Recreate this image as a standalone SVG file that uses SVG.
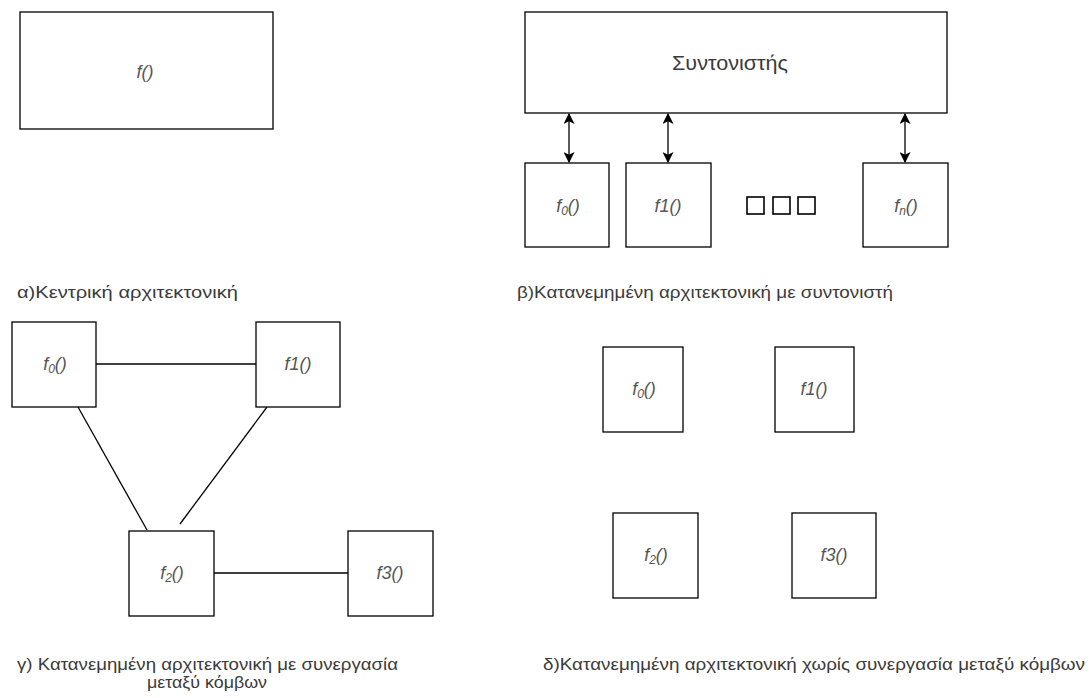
<svg xmlns="http://www.w3.org/2000/svg" width="1089" height="698" viewBox="0 0 1089 698">
  <style>
    .box { fill: #ffffff; stroke: #000000; stroke-width: 1.3; }
    .fn { font-family: "Liberation Sans", Arial, sans-serif; font-size: 18px; font-style: italic; fill: #555555; text-anchor: middle; }
    .sub { font-size: 12px; }
    .cap { font-family: "Liberation Sans", Arial, sans-serif; font-size: 17px; fill: #3a3a3a; }
    .title { font-family: "Liberation Sans", Arial, sans-serif; font-size: 21px; fill: #3a3a3a; }
    .edge { stroke: #000000; stroke-width: 1.3; fill: none; }
    .dot { fill: #ffffff; stroke: #000000; stroke-width: 1.6; }
  </style>
  <defs>
    <marker id="arrow" viewBox="0 0 10 10" refX="9" refY="5" markerWidth="11" markerHeight="11" orient="auto-start-reverse" markerUnits="userSpaceOnUse">
      <path d="M0,0 L10,5 L0,10 L2.5,5 Z" fill="#000000"/>
    </marker>
  </defs>
  <rect width="1089" height="698" fill="#ffffff"/>

  <!-- connectors -->
  <g id="connectors">
    <line class="edge" x1="569" y1="114" x2="569" y2="162" marker-start="url(#arrow)" marker-end="url(#arrow)"/>
    <line class="edge" x1="668" y1="114" x2="668" y2="162" marker-start="url(#arrow)" marker-end="url(#arrow)"/>
    <line class="edge" x1="905" y1="114" x2="905" y2="162" marker-start="url(#arrow)" marker-end="url(#arrow)"/>
    <line class="edge" x1="96" y1="364" x2="256" y2="364"/>
    <line class="edge" x1="78" y1="407" x2="147" y2="530"/>
    <line class="edge" x1="267" y1="407" x2="180" y2="524"/>
    <line class="edge" x1="214" y1="573" x2="348" y2="573"/>
  </g>

  <!-- (a) central -->
  <g id="central">
    <rect class="box" x="20" y="12" width="253" height="117"/>
    <text class="fn" x="145" y="78">f()</text>
  </g>

  <!-- (b) with coordinator -->
  <g id="coordinator">
    <rect class="box" x="525" y="12" width="422" height="101"/>
    <text class="title" x="672" y="70" textLength="116" lengthAdjust="spacingAndGlyphs">Συντονιστής</text>
  </g>
  <g id="b-f0">
    <rect class="box" x="525" y="163" width="84" height="84"/>
    <text class="fn" x="568" y="212">f<tspan class="sub" dy="3">0</tspan><tspan dy="-3">()</tspan></text>
  </g>
  <g id="b-f1">
    <rect class="box" x="626" y="163" width="85" height="84"/>
    <text class="fn" x="668" y="212">f1()</text>
  </g>
  <g id="b-more">
    <rect class="dot" x="747" y="197" width="17" height="17"/>
    <rect class="dot" x="773" y="197" width="17" height="17"/>
    <rect class="dot" x="798" y="197" width="17" height="17"/>
  </g>
  <g id="b-fn">
    <rect class="box" x="863" y="163" width="85" height="84"/>
    <text class="fn" x="906" y="212">f<tspan class="sub" dy="3">n</tspan><tspan dy="-3">()</tspan></text>
  </g>

  <!-- (c) cooperating nodes -->
  <g id="c-f0">
    <rect class="box" x="12" y="322" width="84" height="85"/>
    <text class="fn" x="55" y="370">f<tspan class="sub" dy="3">0</tspan><tspan dy="-3">()</tspan></text>
  </g>
  <g id="c-f1">
    <rect class="box" x="256" y="322" width="84" height="85"/>
    <text class="fn" x="298" y="370">f1()</text>
  </g>
  <g id="c-f2">
    <rect class="box" x="129" y="531" width="85" height="85"/>
    <text class="fn" x="172" y="579">f<tspan class="sub" dy="3">2</tspan><tspan dy="-3">()</tspan></text>
  </g>
  <g id="c-f3">
    <rect class="box" x="348" y="531" width="85" height="85"/>
    <text class="fn" x="390" y="579">f3()</text>
  </g>

  <!-- (d) independent nodes -->
  <g id="d-f0">
    <rect class="box" x="603" y="347" width="80" height="85"/>
    <text class="fn" x="644" y="395">f<tspan class="sub" dy="3">0</tspan><tspan dy="-3">()</tspan></text>
  </g>
  <g id="d-f1">
    <rect class="box" x="775" y="347" width="79" height="85"/>
    <text class="fn" x="814" y="395">f1()</text>
  </g>
  <g id="d-f2">
    <rect class="box" x="613" y="513" width="85" height="85"/>
    <text class="fn" x="656" y="561">f<tspan class="sub" dy="3">2</tspan><tspan dy="-3">()</tspan></text>
  </g>
  <g id="d-f3">
    <rect class="box" x="792" y="513" width="84" height="85"/>
    <text class="fn" x="834" y="561">f3()</text>
  </g>

  <!-- captions -->
  <g id="captions">
    <text class="cap" x="17" y="298" textLength="221" lengthAdjust="spacingAndGlyphs">α)Κεντρική αρχιτεκτονική</text>
    <text class="cap" x="517" y="298" textLength="376" lengthAdjust="spacingAndGlyphs">β)Κατανεμημένη αρχιτεκτονική με συντονιστή</text>
    <text class="cap" x="17" y="670" textLength="381" lengthAdjust="spacingAndGlyphs">γ) Κατανεμημένη αρχιτεκτονική με συνεργασία</text>
    <text class="cap" x="147" y="688" textLength="120" lengthAdjust="spacingAndGlyphs">μεταξύ κόμβων</text>
    <text class="cap" x="543" y="670" textLength="542" lengthAdjust="spacingAndGlyphs">δ)Κατανεμημένη αρχιτεκτονική χωρίς συνεργασία μεταξύ κόμβων</text>
  </g>
</svg>
